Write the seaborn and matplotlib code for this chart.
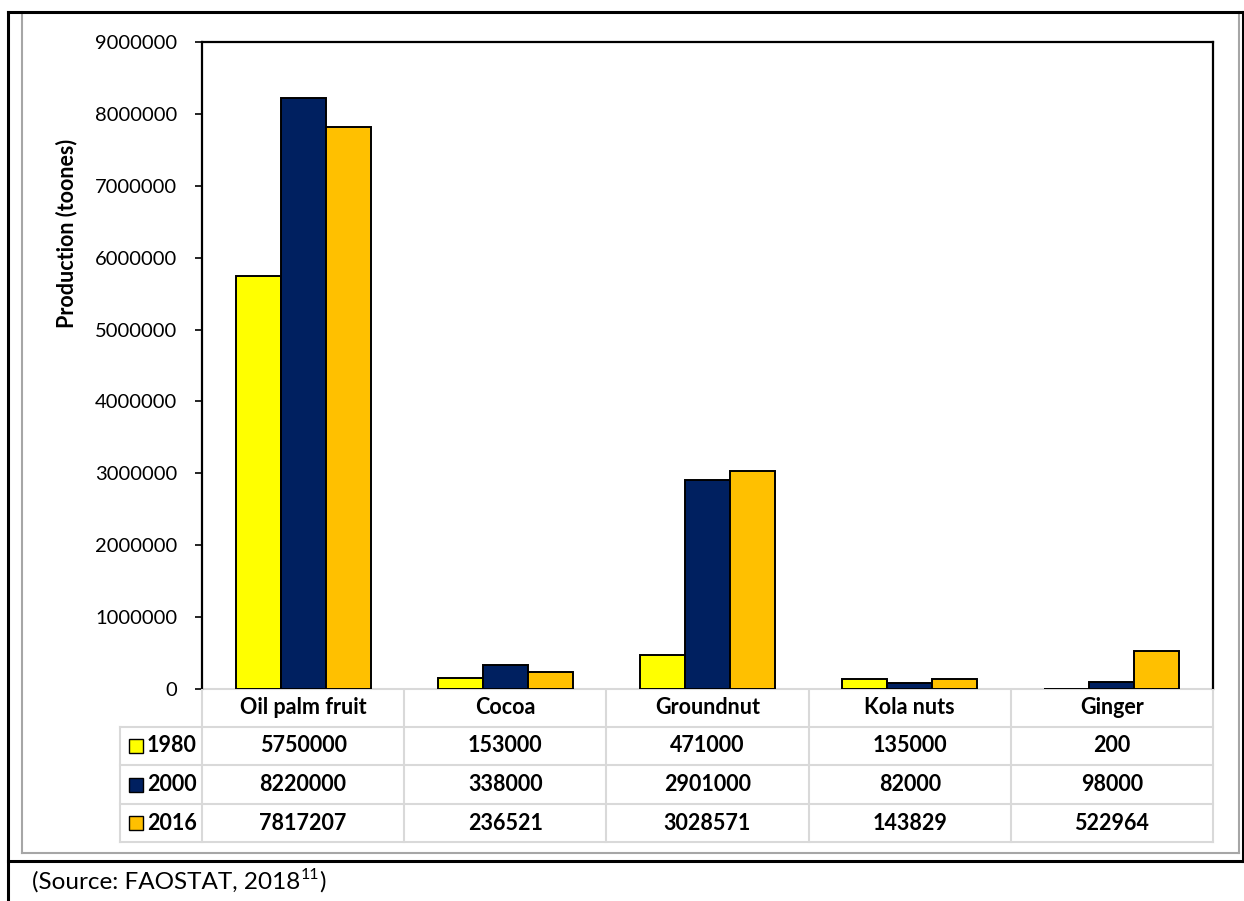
import numpy as np
import pandas as pd
import seaborn as sns
import matplotlib
matplotlib.use("Agg")
import matplotlib.pyplot as plt
from matplotlib.lines import Line2D
from matplotlib.patches import Rectangle

# ---------------- data ----------------
crops = ["Oil palm fruit", "Cocoa", "Groundnut", "Kola nuts", "Ginger"]
years = ["1980", "2000", "2016"]
values_1980 = [5750000, 153000, 471000, 135000, 200]
values_2000 = [8220000, 338000, 2901000, 82000, 98000]
values_2016 = [7817207, 236521, 3028571, 143829, 522964]
colors = ["#FFFF00", "#002060", "#FFC000"]
y_ticks = [0, 1000000, 2000000, 3000000, 4000000, 5000000, 6000000, 7000000, 8000000, 9000000]

series = [values_1980, values_2000, values_2016]
df = pd.DataFrame({
    "crop": np.repeat([crops], 3, axis=0).ravel(),
    "year": np.repeat(years, len(crops)),
    "value": np.concatenate(series),
})

sns.set_theme(style="white")
plt.rcParams["font.family"] = ["Lato", "DejaVu Sans"]

W, H = 1244, 901
fig = plt.figure(figsize=(W / 100, H / 100), dpi=100)

def fx(x):
    return x / W

def fy(y):
    return 1 - y / H

# plot area in pixels
L, R, T, B = 202, 1213, 42, 689
ax = fig.add_axes([fx(L), fy(B), fx(R - L), (B - T) / H])

sns.barplot(data=df, x="crop", y="value", hue="year", order=crops, hue_order=years,
            palette=colors, saturation=1, edgecolor="black", linewidth=1.4, width=0.667, gap=0,
            legend=False, ax=ax, errorbar=None)

ax.set_xlim(-0.5, len(crops) - 0.5)
ax.set_ylim(0, 9000000)
ax.set_yticks(y_ticks)
ax.set_yticklabels([str(v) for v in y_ticks], fontsize=14.5, color="black")
ax.set_xticks([])
ax.set_xlabel("")
ax.set_ylabel("")
ax.tick_params(axis="y", direction="out", length=5, width=1.2, color="black", pad=13, left=True)
for s in ["left", "top", "right"]:
    ax.spines[s].set_color("black")
    ax.spines[s].set_linewidth(1.6)
ax.spines["bottom"].set_color("#d9d9d9")
ax.spines["bottom"].set_linewidth(1.5)
ax.spines["bottom"].set_zorder(0.5)

fig.text(fx(67), fy(233), "Production (toones)", rotation=90, ha="center", va="center",
         fontsize=15.5, fontweight="bold", color="black")

# ---------------- data table ----------------
grid = "#d9d9d9"
lw = 1.5
row_y = [689, 727, 765, 804, 842]
leg_left = 120
col_w = (R - L) / len(crops)
col_x = [L + i * col_w for i in range(len(crops) + 1)]
tfs = 15.5

def line(x0, y0, x1, y1, color, width):
    fig.add_artist(Line2D([fx(x0), fx(x1)], [fy(y0), fy(y1)], color=color, linewidth=width,
                          transform=fig.transFigure, solid_capstyle="projecting"))

# horizontals
for y in row_y[1:]:
    line(leg_left, y, R, y, grid, lw)
# verticals
for x in col_x:
    line(x, row_y[0] + 1, x, row_y[-1], grid, lw)
line(leg_left, row_y[1], leg_left, row_y[-1], grid, lw)

# header
for i, c in enumerate(crops):
    fig.text(fx((col_x[i] + col_x[i + 1]) / 2), fy((row_y[0] + row_y[1]) / 2), c,
             ha="center", va="center", fontsize=tfs, fontweight="bold", color="black")

# rows
for r, (yr, vals, col) in enumerate(zip(years, series, colors)):
    yc = (row_y[r + 1] + row_y[r + 2]) / 2
    fig.add_artist(Rectangle((fx(129), fy(yc + 7)), fx(14), 14 / H, facecolor=col,
                             edgecolor="black", linewidth=1.0, transform=fig.transFigure))
    fig.text(fx(147), fy(yc), yr, ha="left", va="center", fontsize=tfs,
             fontweight="bold", color="black")
    for i, v in enumerate(vals):
        fig.text(fx((col_x[i] + col_x[i + 1]) / 2), fy(yc), str(v), ha="center", va="center",
                 fontsize=tfs, fontweight="bold", color="black")

# ---------------- frames ----------------
gray = "#a6a6a6"
line(22, 12, 22, 853, gray, 1.5)
line(22, 853, 1239, 853, gray, 1.5)
line(1239, 12, 1239, 853, gray, 1.5)

line(8, 12, 1244, 12, "black", 2.2)
line(8, 12, 8, 901, "black", 2.2)
line(8, 861, 1244, 861, "black", 2.2)
line(1243, 12, 1243, 861, "black", 2.2)

# ---------------- source note ----------------
fig.canvas.draw()
renderer = fig.canvas.get_renderer()
t1 = fig.text(fx(32), fy(882), "(Source: FAOSTAT, 2018", ha="left", va="center",
              fontsize=17.5, color="black")
bb = t1.get_window_extent(renderer)
t2 = fig.text(bb.x1 / W, fy(875), "11", ha="left", va="center",
              fontsize=11.5, color="black")
bb2 = t2.get_window_extent(renderer)
fig.text(bb2.x1 / W, fy(882), ")", ha="left", va="center",
         fontsize=17.5, color="black")

fig.savefig("out.png", dpi=100)
